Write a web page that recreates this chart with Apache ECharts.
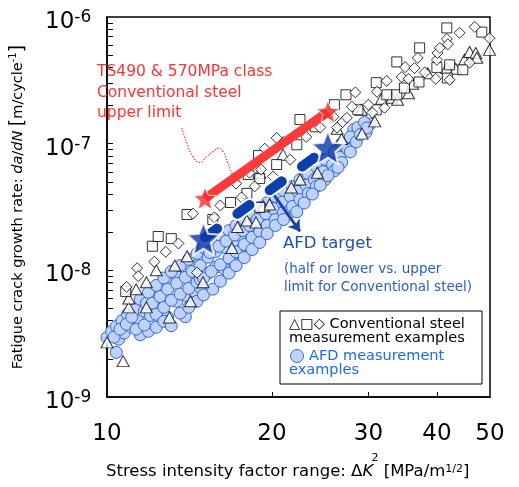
<!DOCTYPE html>
<html><head><meta charset="utf-8">
<script src="https://cdn.jsdelivr.net/npm/echarts@6/dist/echarts.min.js"></script>
<style>html,body{margin:0;padding:0;background:#fff}#c{width:519px;height:487px}</style>
</head><body><div id="c"></div>
<script>
// ---- tick values ----
const xTickLabels = [10, 20, 30, 40, 50];
const xTickMarks = [20, 30, 40];
const yTickLabels = [1e-9, 1e-8, 1e-7, 1e-6];
const yTickMarks = [2e-9,3e-9,4e-9,5e-9,6e-9,7e-9,8e-9,9e-9,1e-8,2e-8,3e-8,4e-8,5e-8,6e-8,7e-8,8e-8,9e-8,1e-7,2e-7,3e-7,4e-7,5e-7,6e-7,7e-7,8e-7,9e-7];

// ---- AFD measurement examples [ΔK, da/dN] ----
const afdPoints = [
 [10.0,2.95e-9],[10.2,3.3e-9],[10.4,3.6e-9],[10.5,2.86e-9],[10.4,2.25e-9],[10.65,4.0e-9],[10.75,3.2e-9],
 [10.9,4.5e-9],[11.05,3.6e-9],[11.25,4.93e-9],[11.4,4.0e-9],[11.5,5.9e-9],[11.7,4.75e-9],[11.5,3.1e-9],[11.9,3.3e-9],
 [10.3,2.97e-9],[10.56,3.43e-9],[10.85,3.76e-9],[11.1,4.28e-9],[11.3,3.43e-9],[11.7,3.7e-9],[11.8,5.5e-9],[12.0,4.4e-9],
 [12.1,6.6e-9],[12.5,4.93e-9],[12.5,7.08e-9],[12.9,8.2e-9],[13.4,9.1e-9],[13.9,1.02e-8],[14.4,1.18e-8],
 [13.4,5.7e-9],[13.9,6.35e-9],[14.4,6.84e-9],[14.8,7.35e-9],[12.9,4.27e-9],[13.9,4.3e-9],
 [11.9,6.7e-9],[12.3,7.6e-9],[12.7,8.7e-9],[13.1,9.8e-9],[13.6,1.09e-8],[14.1,1.22e-8],[14.6,1.36e-8],[15.0,1.52e-8],
 [12.1,5.5e-9],[12.5,6.2e-9],[12.9,7.1e-9],[13.4,7.9e-9],[13.9,8.8e-9],[14.3,9.8e-9],[14.8,1.09e-8],
 [12.3,4.5e-9],[12.7,5.1e-9],[13.1,5.8e-9],[13.6,6.5e-9],[14.1,7.2e-9],[14.6,8.05e-9],
 [12.3,3.55e-9],[12.7,3.95e-9],[13.1,3.65e-9],[13.6,4.6e-9],[14.1,5.1e-9],[14.6,5.7e-9],
 [14.8,8.5e-9],[15.3,9.47e-9],[15.8,1.06e-8],[15.3,1.27e-8],[15.8,1.41e-8],
 [16.4,1.02e-8],[17.0,1.17e-8],[17.5,1.36e-8],[18.1,1.57e-8],[18.7,1.82e-8],[19.3,2.1e-8],[20.0,2.35e-8],
 [16.4,1.52e-8],[17.0,1.69e-8],[17.5,1.89e-8],[18.1,2.14e-8],[18.7,2.35e-8],[19.3,2.61e-8],[20.0,2.92e-8],
 [20.7,3.25e-8],[21.4,3.62e-8],[22.1,4.04e-8],[22.9,4.5e-8],[23.7,5.1e-8],[24.5,5.8e-8],[25.3,6.6e-8],[26.1,7.48e-8],
 [27.0,8.66e-8],[28.0,1.0e-7],[21.4,2.81e-8],[22.1,3.25e-8],[22.9,3.76e-8],[23.7,4.34e-8],[24.5,5.02e-8],[20.7,2.71e-8],
 [28.2,1.29e-7],[29.7,1.23e-7],[30.2,1.43e-7],
 [15.5,1.66e-8],[16.1,1.89e-8],[16.7,2.06e-8],[17.2,2.26e-8],[17.8,2.52e-8],[18.4,2.82e-8],[19.0,3.14e-8],[19.6,3.42e-8],
 [20.3,3.83e-8],[21.0,4.26e-8],[21.8,4.6e-8],[22.5,5.2e-8],[23.3,5.8e-8],[24.1,6.6e-8],[25.0,7.5e-8],[26.0,8.6e-8],
 [26.8,1.0e-7],[27.8,1.13e-7],[28.7,1.34e-7],[29.5,1.47e-7],
 [15.4,1.38e-8],[16.0,1.55e-8],[16.5,1.7e-8],[17.1,1.9e-8],[17.7,2.06e-8],[18.2,2.26e-8],[18.8,2.52e-8],[19.5,2.8e-8],
 [20.1,3.08e-8],[20.9,3.45e-8],[21.6,3.85e-8],[22.3,4.2e-8],[23.1,4.7e-8],[23.9,5.2e-8],[24.8,6.0e-8],[25.8,6.8e-8],
 [26.6,7.8e-8],[27.5,9.0e-8],[28.5,1.03e-7],
 [15.0,8.7e-9],[15.5,9.8e-9],[16.1,1.11e-8],[16.7,1.25e-8],[17.2,1.4e-8],[17.8,1.6e-8],[18.4,1.82e-8],[19.0,2.03e-8],
 [19.6,2.26e-8],[20.3,2.52e-8],[21.0,2.86e-8],[21.8,3.2e-8],[22.5,3.62e-8],[23.3,4.05e-8],[24.1,4.6e-8],[25.0,5.2e-8],
 [26.0,6.1e-8],[26.8,7.1e-8],
 [15.0,6.4e-9],[15.6,7.1e-9],[16.1,8.2e-9],[16.7,9.5e-9],[17.2,1.09e-8],[17.8,1.26e-8],[18.4,1.46e-8],[19.0,1.66e-8],
 [19.6,1.95e-8],[20.3,2.26e-8],[21.0,2.52e-8],[22.2,2.9e-8],[22.9,3.4e-8],[23.7,4.0e-8],[24.5,4.7e-8],[25.3,5.6e-8],
 [26.4,6.5e-8],[27.8,8.6e-8],[29.0,1.18e-7],[29.8,1.33e-7]
];

// ---- Conventional steel measurement examples ----
const trianglePoints = [
 [10.0,2.7e-9],[10.7,1.92e-9],[10.96,5.1e-9],[10.96,6.0e-9],[11.3,7.08e-9],[11.8,8.05e-9],[11.8,5.1e-9],[12.3,1.0e-8],
 [13.3,1.09e-8],[13.0,4.25e-9],[14.2,5.7e-9],[14.0,1.29e-8],[14.97,8.05e-9],[16.9,1.5e-8],[17.3,2.2e-8],[18.0,2.47e-8],
 [18.7,2.39e-8],[19.3,3.2e-8],[19.8,3.31e-8],[21.7,4.5e-8],[22.5,5.21e-8],[24.2,5.9e-8],[20.95,8.19e-8],[19.0,5.9e-8],
 [26.8,1.09e-7],[26.3,1.31e-7],[29.2,1.2e-7],[30.8,1.5e-7],[29.1,1.85e-7],[31.7,2.26e-7],[33.1,2.3e-7],[33.9,2.22e-7],
 [35.5,2.5e-7],[36.1,2.97e-7],[38.5,3.6e-7],[41.7,3.95e-7],[43.3,3.9e-7],[44.9,4.59e-7],[45.9,5.3e-7],[47.1,5.2e-7],
 [47.3,4.77e-7],[49.9,5.5e-7]
];
const squarePoints = [
 [10.82,6.8e-9],[12.1,1.55e-8],[12.4,1.85e-8],[13.1,1.78e-8],[14.0,2.76e-8],[15.6,2.52e-8],[16.8,3.43e-8],[18.0,4.05e-8],
 [18.1,5.7e-8],[19.0,5.3e-8],[18.9,8.05e-8],[20.4,6.84e-8],[22.2,9.8e-8],[22.5,1.55e-7],[24.0,1.36e-7],[26.0,2.03e-7],
 [27.3,2.43e-7],[28.7,1.85e-7],[31.0,1.85e-7],[31.0,3.03e-7],[32.4,2.43e-7],[33.8,2.43e-7],[33.8,4.42e-7],[34.9,2.75e-7],
 [37.1,3.07e-7],[37.2,5.7e-7],[40.0,4.0e-7],[41.8,3.3e-7],[42.2,4.19e-7],[44.6,3.83e-7],[41.7,8.2e-7],[48.3,7.6e-7],
 [19.0,3.14e-8]
];
const diamondPoints = [
 [10.86,7.4e-9],[11.35,1.04e-8],[11.4,9.0e-9],[12.2,1.17e-8],[12.8,1.4e-8],[13.5,1.63e-8],[14.35,2.8e-8],[14.6,9.6e-9],
 [15.7,2.62e-8],[16.1,3.25e-8],[17.2,4.84e-8],[17.6,3.76e-8],[18.6,4.6e-8],[19.1,6.24e-8],[18.2,5.9e-8],[20.1,5.5e-8],
 [20.4,1.11e-7],[21.0,1.03e-7],[19.4,9.13e-8],[21.6,7.48e-8],[23.1,1.13e-7],[24.5,1.34e-7],[25.9,1.63e-7],[26.9,1.48e-7],
 [26.3,1.34e-7],[27.4,1.6e-7],[28.0,1.96e-7],[28.4,2.54e-7],[30.0,2.03e-7],[30.5,1.76e-7],[31.1,2.57e-7],[32.1,1.92e-7],
 [32.4,3.13e-7],[34.5,3.36e-7],[35.5,3.25e-7],[35.0,4.02e-7],[36.4,3.95e-7],[36.9,4.75e-7],[38.0,3.65e-7],[39.8,3.25e-7],
 [40.0,4.59e-7],[40.1,5.2e-7],[40.5,5.7e-7],[41.7,6.7e-7],[41.9,6.1e-7],[42.2,3.19e-7],[44.0,7.5e-7],[45.9,4.35e-7],
 [46.9,8.35e-7],[49.9,6.8e-7]
];

// ---- upper limit / target / annotation guides ----
const redStars = [[15.1, 3.7e-8], [25.3, 1.79e-7]];
const blueStars = [[15.0, 1.78e-8], [25.3, 9.3e-8]];
const arrowLine = [[20.2, 3.9e-8], [22.5, 2.03e-8]];
const calloutCurve = [[13.7,1.33e-7],[14.0,1.0e-7],[14.35,7.9e-8],[14.78,7.1e-8],[15.2,7.9e-8],[15.6,8.6e-8],[16.0,9.2e-8],[16.3,8.6e-8],[16.6,7.1e-8],[17.0,5.5e-8]];

const STAR = 'path://M0,-1L0.2645,-0.364L0.951,-0.309L0.428,0.139L0.588,0.809L0,0.45L-0.588,0.809L-0.428,0.139L-0.951,-0.309L-0.2645,-0.364Z';
const FONT = 'DejaVu Sans';

const chart = echarts.init(document.getElementById('c'), null, {renderer: 'canvas'});
chart.setOption({
  animation: false,
  backgroundColor: '#fff',
  textStyle: {fontFamily: FONT},
  grid: {left: 107, right: 29, top: 17, bottom: 90, show: true, borderColor: '#000', borderWidth: 1.5, backgroundColor: 'transparent'},
  xAxis: {
    type: 'log', logBase: 10, min: 10, max: 50,
    axisLine: {lineStyle: {color: '#000', width: 1.5}},
    axisTick: {inside: true, length: 5, customValues: xTickMarks, lineStyle: {color: '#000', width: 1}},
    axisLabel: {customValues: xTickLabels, fontSize: 23, color: '#000', fontFamily: FONT, margin: 26},
    splitLine: {show: false}, minorTick: {show: false}
  },
  yAxis: {
    type: 'log', logBase: 10, min: 1e-9, max: 1e-6,
    axisLine: {lineStyle: {color: '#000', width: 1.5}},
    axisTick: {inside: true, length: 6, customValues: yTickMarks, lineStyle: {color: '#000', width: 1}},
    axisLabel: {
      customValues: yTickLabels, margin: 62, align: 'left', padding: [10, 0, 0, 0],
      formatter: v => '{b|10}{s|' + Math.round(Math.log10(v)) + '}',
      rich: {
        b: {fontSize: 23, fontFamily: FONT, color: '#000', lineHeight: 26},
        s: {fontSize: 17, fontFamily: FONT, color: '#000', lineHeight: 16, verticalAlign: 'top'}
      }
    },
    splitLine: {show: false}
  },
  series: [
    {type: 'scatter', data: afdPoints, symbol: 'circle', symbolSize: 12, z: 2,
     itemStyle: {color: '#bfd2f7', borderColor: '#3367d8', borderWidth: 1, opacity: 1}},
    {type: 'scatter', data: trianglePoints, symbol: 'triangle', symbolSize: [12, 11], z: 3,
     itemStyle: {color: '#fff', borderColor: '#000', borderWidth: 1}},
    {type: 'scatter', data: squarePoints, symbol: 'rect', symbolSize: 10, z: 3,
     itemStyle: {color: '#fff', borderColor: '#000', borderWidth: 1}},
    {type: 'scatter', data: diamondPoints, symbol: 'path://M0,-1L1,0L0,1L-1,0Z', symbolSize: 11, z: 3,
     itemStyle: {color: '#fff', borderColor: '#000', borderWidth: 1}},
    {type: 'line', data: calloutCurve, smooth: 0.5, symbol: 'none', z: 4,
     lineStyle: {color: '#ff3a3a', width: 1.2, type: [1.5, 1.5]}},
    {type: 'line', data: redStars, symbol: 'none', z: 4,
     lineStyle: {color: '#ff3a3a', width: 9}},
    {type: 'line', data: blueStars, symbol: 'none', z: 4,
     lineStyle: {color: '#fff', width: 14, type: [15, 25], dashOffset: -2, cap: 'round'}},
    {type: 'line', data: blueStars, symbol: 'none', z: 4,
     lineStyle: {color: '#0d3fae', width: 10, type: [15, 25], dashOffset: -2, cap: 'round'}},
    {type: 'scatter', data: redStars, symbol: STAR, symbolSize: 22, z: 5,
     itemStyle: {color: '#ff2b2b', borderColor: '#fff', borderWidth: 1}},
    {type: 'scatter', data: blueStars, symbol: STAR, symbolSize: 33, z: 5,
     itemStyle: {color: '#0a37a8', borderColor: '#fff', borderWidth: 2}},
    {type: 'lines', coordinateSystem: 'cartesian2d', z: 6, symbol: ['none', 'arrow'], symbolSize: 11,
     lineStyle: {color: '#1a45a8', width: 3, opacity: 1}, data: [{coords: arrowLine}]}
  ],
  graphic: [
    {type: 'text', x: 97, y: 72, z: 10, style: {text: 'TS490 & 570MPa class', font: '15.5px ' + FONT, fill: '#ff3333', verticalAlign: 'middle'}},
    {type: 'text', x: 97, y: 93, z: 10, style: {text: 'Conventional steel', font: '15.5px ' + FONT, fill: '#ff3333', verticalAlign: 'middle'}},
    {type: 'text', x: 97, y: 113, z: 10, style: {text: 'upper limit', font: '15.5px ' + FONT, fill: '#ff3333', verticalAlign: 'middle'}},
    {type: 'text', x: 283, y: 244, z: 10, style: {text: 'AFD target', font: '16.5px ' + FONT, fill: '#1f4fb5', verticalAlign: 'middle'}},
    {type: 'text', x: 284, y: 269, z: 10, style: {text: '(half or lower vs. upper', font: '13.5px ' + FONT, fill: '#2a5ccc', verticalAlign: 'middle'}},
    {type: 'text', x: 284, y: 287, z: 10, style: {text: 'limit for Conventional steel)', font: '13.5px ' + FONT, fill: '#2a5ccc', verticalAlign: 'middle'}},
    {type: 'rect', z: 10, shape: {x: 280, y: 311, width: 202, height: 73}, style: {fill: '#fff', stroke: '#000', lineWidth: 1}},
    {type: 'text', x: 289, y: 324, z: 11, style: {text: '△□◇ Conventional steel', font: '14.5px ' + FONT, fill: '#000', verticalAlign: 'middle'}},
    {type: 'text', x: 289, y: 338, z: 11, style: {text: 'measurement examples', font: '14.5px ' + FONT, fill: '#000', verticalAlign: 'middle'}},
    {type: 'circle', z: 11, shape: {cx: 297, cy: 356, r: 6.5}, style: {fill: '#bfd2f7', stroke: '#3a6fd8', lineWidth: 1}},
    {type: 'text', x: 309, y: 356, z: 11, style: {text: 'AFD measurement', font: '14.5px ' + FONT, fill: '#1a6bf0', verticalAlign: 'middle'}},
    {type: 'text', x: 289, y: 370, z: 11, style: {text: 'examples', font: '14.5px ' + FONT, fill: '#1a6bf0', verticalAlign: 'middle'}},
    {type: 'text', x: 18, y: 207, rotation: Math.PI / 2, z: 10,
     style: {text: 'Fatigue crack growth rate: {i|da}/{i|dN} {br|[}m/cycle{sup|-1}{br|]}', font: '14.5px ' + FONT, fill: '#000', align: 'center', verticalAlign: 'middle',
       rich: {i: {fontStyle: 'italic', fontSize: 14.5, fontFamily: FONT}, br: {fontSize: 19, fontFamily: FONT}, sup: {fontSize: 10, fontFamily: FONT, verticalAlign: 'top', lineHeight: 12}}}},
    {type: 'text', x: 106, y: 472, z: 10,
     style: {text: 'Stress intensity factor range: Δ{i|K}  [MPa/m{sup|1/2}]', font: '16.5px ' + FONT, fill: '#000', align: 'left', verticalAlign: 'middle',
       rich: {i: {fontStyle: 'italic', fontSize: 16.5, fontFamily: FONT}, sup: {fontSize: 11, fontFamily: FONT, verticalAlign: 'top', lineHeight: 13}}}},
    {type: 'text', x: 375, y: 458, z: 10, style: {text: '2', font: '11px ' + FONT, fill: '#000', align: 'center', verticalAlign: 'middle'}}
  ]
});
</script>
</body></html>
